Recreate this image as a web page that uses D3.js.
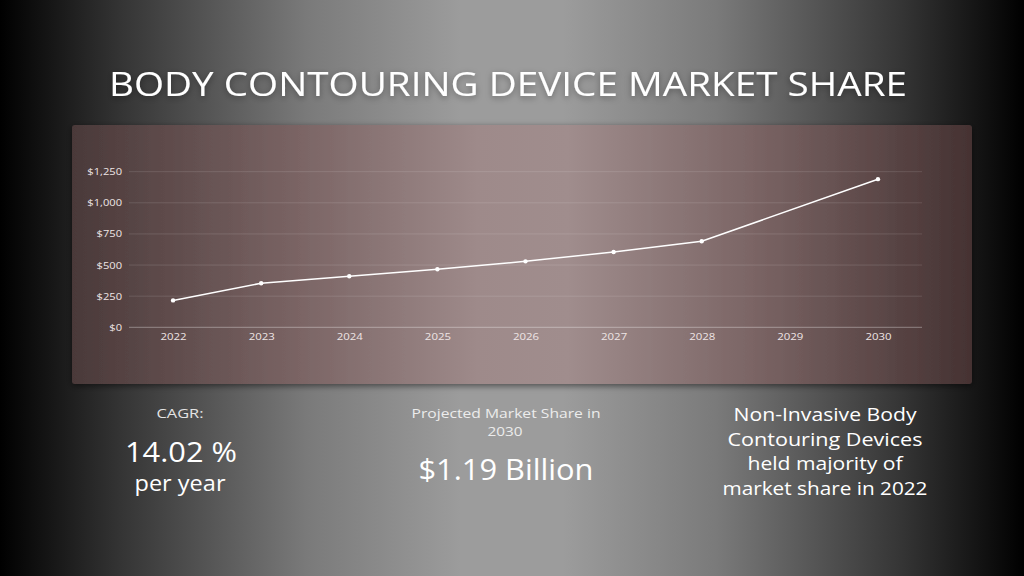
<!DOCTYPE html>
<html>
<head>
<meta charset="utf-8">
<script src="https://cdn.jsdelivr.net/npm/d3@7"></script>
<style>
  html, body { margin: 0; padding: 0; background: #000; }
  svg { display: block; }
  text { font-family: "Open Sans", "Noto Sans", sans-serif; }
</style>
</head>
<body>
<svg id="chart" width="1024" height="576"></svg>
<script>
// ---- data ----
const years = ["2022", "2023", "2024", "2025", "2026", "2027", "2028", "2029", "2030"];
const marketValues = [216, 354, 410, 466, 530, 605, 691, null, 1190];
const yTicks = [0, 250, 500, 750, 1000, 1250];
const title = "BODY CONTOURING DEVICE MARKET SHARE";
const cagrLabel = "CAGR:";
const cagrValue = "14.02 %";
const cagrUnit = "per year";
const projLabelLines = ["Projected Market Share in", "2030"];
const projValue = "$1.19 Billion";
const noteLines = ["Non-Invasive Body", "Contouring Devices", "held majority of", "market share in 2022"];

const W = 1024, H = 576;
const svg = d3.select("#chart");
const defs = svg.append("defs");

// background gradient
const bg = defs.append("linearGradient").attr("id", "bg").attr("x1", 0).attr("x2", 1).attr("y1", 0).attr("y2", 0);
[[0, "#000000"], [0.12, "#353535"], [0.3, "#7a7a7a"], [0.45, "#9c9c9c"], [0.55, "#9c9c9c"], [0.7, "#7a7a7a"], [0.88, "#353535"], [1, "#000000"]]
  .forEach(([o, c]) => bg.append("stop").attr("offset", o).attr("stop-color", c));
svg.append("rect").attr("width", W).attr("height", H).attr("fill", "url(#bg)");

// panel gradient
const pg = defs.append("linearGradient").attr("id", "panel").attr("x1", 0).attr("x2", 1).attr("y1", 0).attr("y2", 0);
[[0, "#4a3939"], [0.25, "#7a6464"], [0.45, "#9e8a8a"], [0.55, "#a08d8d"], [0.75, "#7c6666"], [1, "#453232"]]
  .forEach(([o, c]) => pg.append("stop").attr("offset", o).attr("stop-color", c));

const shadow = defs.append("filter").attr("id", "shadow").attr("x", "-5%").attr("y", "-5%").attr("width", "110%").attr("height", "115%");
shadow.append("feDropShadow").attr("dx", 0).attr("dy", 2).attr("stdDeviation", 3).attr("flood-color", "#000").attr("flood-opacity", 0.5);

const tshadow = defs.append("filter").attr("id", "tshadow").attr("x", "-5%").attr("y", "-30%").attr("width", "110%").attr("height", "160%");
tshadow.append("feDropShadow").attr("dx", 0).attr("dy", 2).attr("stdDeviation", 3).attr("flood-color", "#000").attr("flood-opacity", 0.35);

// title
svg.append("text")
  .attr("x", 508).attr("y", 96)
  .attr("text-anchor", "middle")
  .attr("fill", "#ffffff")
  .attr("font-size", 32)
  .attr("font-weight", 400)
  .attr("textLength", 798)
  .attr("lengthAdjust", "spacingAndGlyphs")
  .attr("filter", "url(#tshadow)")
  .text(title);

// panel
svg.append("rect")
  .attr("x", 72).attr("y", 125).attr("width", 900).attr("height", 259)
  .attr("rx", 3)
  .attr("fill", "url(#panel)")
  .attr("filter", "url(#shadow)");

// scales
const x = d3.scalePoint().domain(years).range([129, 922]).padding(0.5);
const y = d3.scaleLinear().domain([0, 1250]).range([327.3, 171.7]);

// gridlines
const g = svg.append("g");
g.selectAll("line.grid").data(yTicks).join("line")
  .attr("class", "grid")
  .attr("x1", 129).attr("x2", 922)
  .attr("y1", d => y(d)).attr("y2", d => y(d))
  .attr("stroke", d => d === 0 ? "rgba(255,255,255,0.35)" : "rgba(255,255,255,0.12)")
  .attr("stroke-width", 1);

// y axis labels
const yAxis = d3.axisLeft(y).tickValues(yTicks).tickSize(0).tickPadding(7)
  .tickFormat(d => "$" + d3.format(",")(d));
const ya = svg.append("g").attr("transform", "translate(129,0)").call(yAxis);
ya.select(".domain").remove();
ya.selectAll("text")
  .attr("fill", "#efe6e6").attr("font-size", 9.5).attr("font-family", "'Open Sans', sans-serif")
  .each(function () {
    const t = d3.select(this);
    const w = this.getComputedTextLength();
    t.attr("textLength", w * 1.17).attr("lengthAdjust", "spacingAndGlyphs");
  });

// x axis labels
const xAxis = d3.axisBottom(x).tickSize(0).tickPadding(6);
const xa = svg.append("g").attr("transform", "translate(0,327.3)").call(xAxis);
xa.select(".domain").remove();
xa.selectAll("text")
  .attr("fill", "#efe6e6").attr("font-size", 9.5).attr("font-family", "'Open Sans', sans-serif")
  .each(function () {
    const w = this.getComputedTextLength();
    d3.select(this).attr("textLength", w * 1.2).attr("lengthAdjust", "spacingAndGlyphs");
  });

// line
const pts = years.map((yr, i) => ({ yr, v: marketValues[i] })).filter(d => d.v !== null);
const line = d3.line().x(d => x(d.yr)).y(d => y(d.v));
svg.append("path").datum(pts)
  .attr("d", line)
  .attr("fill", "none")
  .attr("stroke", "#ffffff")
  .attr("stroke-width", 1.5);
svg.selectAll("circle.pt").data(pts).join("circle")
  .attr("class", "pt")
  .attr("cx", d => x(d.yr)).attr("cy", d => y(d.v))
  .attr("r", 2.2)
  .attr("fill", "#ffffff");

// bottom texts
function txt(xp, yp, s, size, color, weight, len) {
  const t = svg.append("text").attr("x", xp).attr("y", yp)
    .attr("text-anchor", "middle").attr("fill", color)
    .attr("font-size", size).attr("font-weight", weight || 400)
    .text(s);
  if (len) t.attr("textLength", len).attr("lengthAdjust", "spacingAndGlyphs");
}
txt(180, 418, cagrLabel, 13.5, "#e4e4e4", 400, 47);
txt(181, 462, cagrValue, 28, "#ffffff", 400, 112);
txt(180, 491, cagrUnit, 21, "#ffffff", 400, 91);

txt(506, 418, projLabelLines[0], 13.5, "#ececec", 400, 189);
txt(505, 436, projLabelLines[1], 13.5, "#ececec", 400, 35);
txt(506, 480, projValue, 28.5, "#ffffff", 400, 175);

const noteLens = [183, 195, 155, 205];
noteLines.forEach((l, i) => txt(825, 421 + i * 24.5, l, 17.5, "#ffffff", 500, noteLens[i]));
</script>
</body>
</html>
